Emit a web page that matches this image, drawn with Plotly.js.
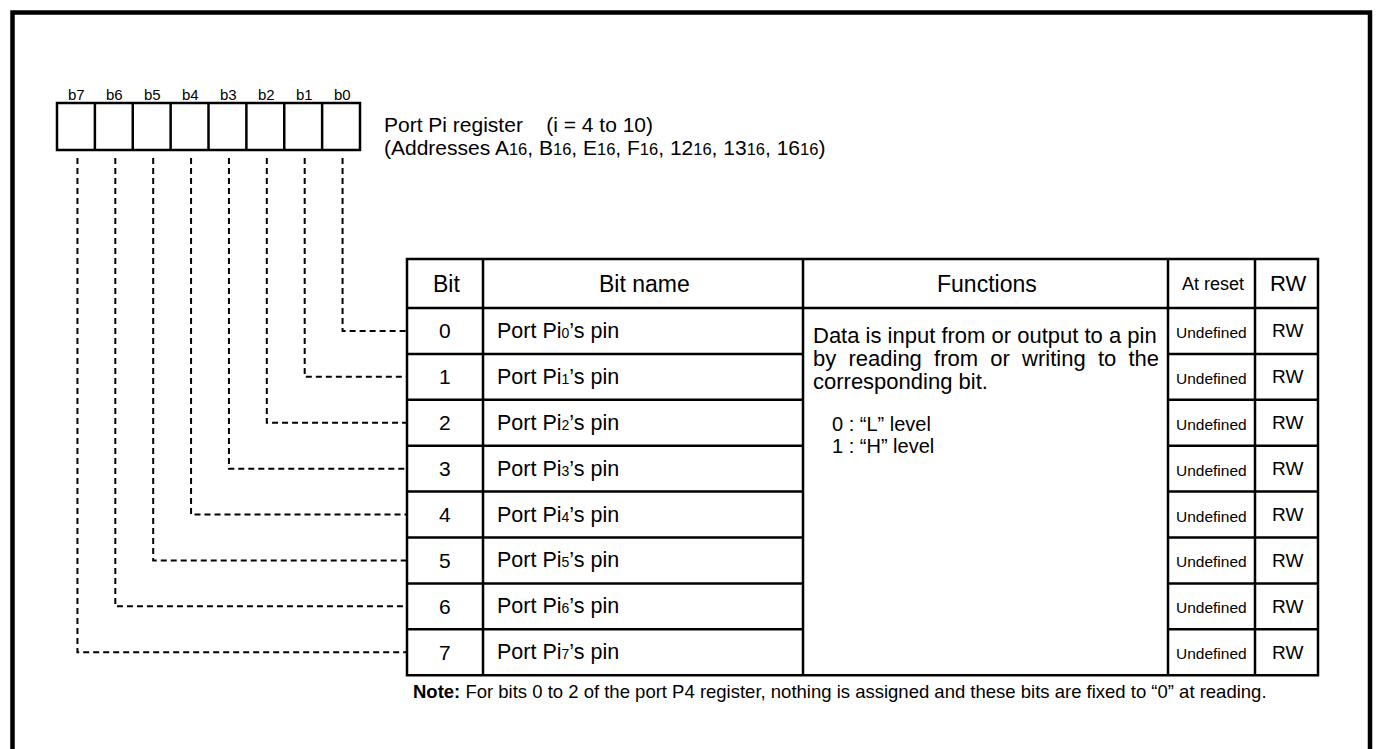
<!DOCTYPE html>
<html>
<head>
<meta charset="utf-8">
<script src="https://cdn.plot.ly/plotly-3.0.1.min.js"></script>
<style>html,body{margin:0;padding:0;background:#fff;}#chart{width:1377px;height:749px;}</style>
</head>
<body>
<div id="chart"></div>
<script>
// ---- data ----
const registerBits = ["b7", "b6", "b5", "b4", "b3", "b2", "b1", "b0"];
const bitNumbers = ["0", "1", "2", "3", "4", "5", "6", "7"];
const bitNamePrefix = "Port Pi";
const bitNameSuffix = "\u2019s pin";
const resetValues = ["Undefined", "Undefined", "Undefined", "Undefined", "Undefined", "Undefined", "Undefined", "Undefined"];
const rwValues = ["RW", "RW", "RW", "RW", "RW", "RW", "RW", "RW"];
const headers = ["Bit", "Bit name", "Functions", "At reset", "RW"];
const functionLines = [
  "Data is input from or output to a pin",
  "by\u00A0 reading\u00A0 from\u00A0 or\u00A0 writing\u00A0 to\u00A0 the",
  "corresponding bit."
];
const levelLines = ["0 : \u201CL\u201D level", "1 : \u201CH\u201D level"];
const registerTitle = "Port Pi register\u00A0\u00A0\u00A0 (i = 4 to 10)";
const addressBases = ["A", "B", "E", "F", "12", "13", "16"];
const addressRadix = "16";
const noteLabel = "Note:";
const noteText = "For bits 0 to 2 of the port P4 register, nothing is assigned and these bits are fixed to \u201C0\u201D at reading.";

// ---- layout geometry ----
const FONT = "Liberation Sans, Arial, Helvetica, sans-serif";
const regLeft = 57, regRight = 360, regTop = 103, regBottom = 150;
const cellW = (regRight - regLeft) / registerBits.length;
const colX = [407, 483, 803, 1168, 1255, 1318];
const tabTop = 259, headBottom = 308, rowH = 45.9;
const dashTop = 158;

const shapes = [];
const annotations = [];
const black = "#000";
const small = (t, px) => `<span style="font-size:${px}px">${t}</span>`;

function line(x0, y0, x1, y1, w, dash) {
  shapes.push({type: "line", xref: "x", yref: "y", x0, y0, x1, y1,
    line: {color: black, width: w, dash: dash || "solid"}});
}
function text(x, y, t, size, anchor, extra) {
  annotations.push(Object.assign({xref: "x", yref: "y", x, y, text: t, showarrow: false,
    xanchor: anchor || "center", yanchor: "middle", borderpad: 0,
    font: {family: FONT, size: size, color: black}}, extra || {}));
}

// outer frame
shapes.push({type: "rect", xref: "x", yref: "y", x0: 12.5, y0: 12.5, x1: 1370, y1: 800,
  line: {color: black, width: 4.5}});

// register boxes
shapes.push({type: "rect", xref: "x", yref: "y", x0: regLeft, y0: regTop, x1: regRight, y1: regBottom,
  line: {color: black, width: 2.5}});
registerBits.forEach((b, i) => {
  const cx = regLeft + cellW * (i + 0.5);
  if (i > 0) line(regLeft + cellW * i, regTop, regLeft + cellW * i, regBottom, 2.5);
  text(cx + 1, 94, b, 15);
});

// table
const nRows = bitNumbers.length;
const tabBottom = headBottom + rowH * nRows;
shapes.push({type: "rect", xref: "x", yref: "y", x0: colX[0], y0: tabTop, x1: colX[5], y1: tabBottom,
  line: {color: black, width: 2.5}});
colX.slice(1, 5).forEach(x => line(x, tabTop, x, tabBottom, 2.5));
line(colX[0], headBottom, colX[5], headBottom, 2.5);
for (let i = 1; i < nRows; i++) {
  const y = headBottom + rowH * i;
  line(colX[0], y, colX[2], y, 2.5);
  line(colX[3], y, colX[5], y, 2.5);
}

// headers
const headerSizes = [23, 23, 23, 18, 22];
headers.forEach((h, i) => text((colX[i] + colX[i + 1]) / 2 + 1, (tabTop + headBottom) / 2, h, headerSizes[i]));

// rows
bitNumbers.forEach((b, i) => {
  const cy = headBottom + rowH * (i + 0.5);
  text((colX[0] + colX[1]) / 2, cy, b, 21);
  text(colX[1] + 13, cy, bitNamePrefix + small(b, 14) + bitNameSuffix, 21.5, "left");
  text((colX[3] + colX[4]) / 2, cy + 1.5, resetValues[i], 15.5);
  text((colX[4] + colX[5]) / 2 + 1, cy, rwValues[i], 19);
  // dashed connector from register bit to row
  const regIndex = registerBits.indexOf("b" + b);
  const vx = regLeft + cellW * (regIndex + 0.5) + 1.5;
  shapes.push({type: "path", xref: "x", yref: "y",
    path: `M ${vx},${dashTop} V ${cy} H ${colX[0]}`,
    line: {color: black, width: 2, dash: "6px,4px"}});
});

// functions text
functionLines.forEach((t, i) => text(812, 335 + i * 23, t, 22, "left"));
levelLines.forEach((t, i) => text(831, 424 + i * 22, t, 20, "left"));

// register description
text(383, 124, registerTitle, 21, "left");
const addrText = "(Addresses " + addressBases.map(a => a + small(addressRadix, 16.5)).join(", ") + ")";
text(383, 147, addrText, 21, "left");

// note
text(412, 691, "<b>" + noteLabel + "</b> " + noteText, 18.5, "left");

const layout = {
  width: 1377, height: 749,
  margin: {l: 0, r: 0, t: 0, b: 0, pad: 0},
  paper_bgcolor: "#fff", plot_bgcolor: "#fff",
  showlegend: false,
  xaxis: {range: [0, 1377], visible: false, fixedrange: true},
  yaxis: {range: [749, 0], visible: false, fixedrange: true},
  shapes, annotations
};
Plotly.newPlot("chart", [], layout, {staticPlot: true, displayModeBar: false});
</script>
</body>
</html>
